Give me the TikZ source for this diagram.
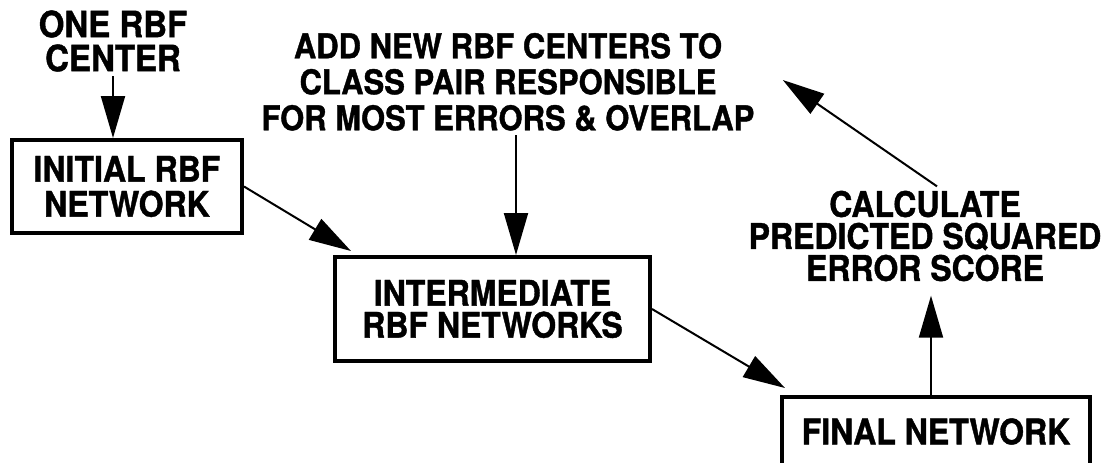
\documentclass[tikz,border=0pt]{standalone}
\usepackage{graphicx}
\usepackage{fontspec}
\setmainfont{TeX Gyre Heros}[BoldFeatures={FakeBold=1.2}]
\usetikzlibrary{arrows.meta}

% the lettering of the figure is a little taller than Helvetica
\newcommand\tall[1]{\scalebox{1}[1.1]{#1}}

\tikzset{
  lbl/.style={align=center,font=\bfseries\fontsize{16}{16}\selectfont,inner sep=2pt},
  stage/.style={lbl,draw,line width=2pt,inner sep=0pt},
  feed/.style={line width=1pt,-{Triangle[length=21pt,width=12pt]}}
}

\begin{document}
\begin{tikzpicture}[x=0.5pt,y=-0.5pt]
  \clip (0,0) rectangle (1109,462);

  % Labels outside the boxes.
  \node[lbl,font=\bfseries\fontsize{16.5}{17}\selectfont] (one) at (113,41) {\tall{ONE RBF}\\\tall{CENTER}};
  \node[lbl,font=\bfseries\fontsize{15.5}{18}\selectfont] (add) at (508,82) {\tall{ADD NEW RBF CENTERS TO}\\\tall{CLASS PAIR RESPONSIBLE}\\\tall{FOR MOST ERRORS \& OVERLAP}};
  \node[lbl] (calc) at (925,236) {\tall{CALCULATE}\\\tall{PREDICTED SQUARED}\\\tall{ERROR SCORE}};

  % The network stages.
  \node[stage,minimum width=115pt,minimum height=46.5pt,font=\bfseries\fontsize{16}{17.5}\selectfont] (init) at (127,186.5) {\tall{INITIAL RBF}\\\tall{NETWORK}};
  \node[stage,minimum width=157.5pt,minimum height=52pt] (inter) at (492.5,309) {\tall{INTERMEDIATE}\\\tall{RBF NETWORKS}};
  \node[stage,minimum width=154pt,minimum height=34.5pt] (final) at (936,431.5) {\tall{FINAL NETWORK}};

  % Connectors.
  \draw[feed] (one) -- (one |- init.north);
  \draw[feed] (init.east) -- ([xshift=9pt,yshift=2pt]inter.north west);
  \draw[feed] ([xshift=4pt]add.south) -- ([xshift=4pt]add.south |- inter.north);
  \draw[feed] (inter.east) -- ([xshift=2.5pt,yshift=3.5pt]final.north west);
  \draw[feed] ([xshift=-2.5pt]final.north) -- ([xshift=-2.5pt,yshift=-5pt]final.north |- calc.south);
  \draw[feed] ([xshift=6pt]calc.north) -- ([xshift=12pt,yshift=1pt]add.east);
\end{tikzpicture}
\end{document}
